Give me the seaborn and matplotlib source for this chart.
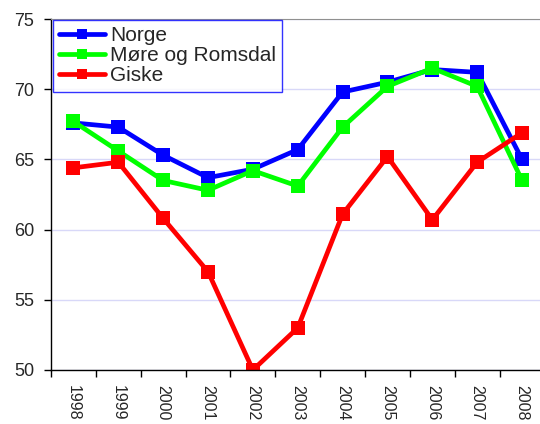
import pandas as pd
import matplotlib
matplotlib.use("Agg")
import matplotlib.pyplot as plt
import seaborn as sns
import numpy as np

years = [1998, 1999, 2000, 2001, 2002, 2003, 2004, 2005, 2006, 2007, 2008]
norge = [67.6, 67.3, 65.3, 63.7, 64.3, 65.7, 69.8, 70.5, 71.4, 71.2, 65.0]
more = [67.7, 65.6, 63.5, 62.8, 64.2, 63.1, 67.3, 70.2, 71.5, 70.2, 63.5]
giske = [64.4, 64.8, 60.8, 57.0, 50.0, 53.0, 61.1, 65.2, 60.7, 64.8, 66.9]
series = ["Norge", "Møre og Romsdal", "Giske"]
colors = ["#0000ff", "#00ff00", "#ff0000"]

df = pd.DataFrame({
    "pos": list(range(len(years))) * 3,
    "verdi": norge + more + giske,
    "serie": [s for s in series for _ in years],
})

sns.set_style("white")
plt.rcParams["font.family"] = ["Liberation Sans", "DejaVu Sans"]

fig = plt.figure(figsize=(5.4, 4.24), dpi=100)
ax = fig.add_axes([51 / 540, 1 - 370 / 424, 1 - 51 / 540, (370 - 19) / 424])

sns.lineplot(data=df, x="pos", y="verdi", hue="serie", palette=colors,
             marker="s", markersize=9.5, markeredgewidth=0, linewidth=3.4,
             ax=ax, legend=True)

ax.set_xlim(-0.5, 10.4)
ax.set_ylim(50, 75)
ax.set_yticks([50, 55, 60, 65, 70, 75])
ax.set_xticks(range(len(years)))
ax.set_xticklabels([str(y) for y in years], rotation=-90, fontsize=11.5)
ax.set_xticks(np.arange(-0.5, 10.5, 1), minor=True)
ax.tick_params(axis="x", which="major", bottom=True, length=0, pad=11)
ax.tick_params(axis="x", which="minor", bottom=True, length=5, width=1,
               direction="out", color="black")
ax.tick_params(axis="y", left=True, length=5, width=1, direction="out",
               color="black", labelsize=13, pad=7)
ax.yaxis.grid(True, color="#d8d8f8", linewidth=1)
ax.set_axisbelow(True)
ax.set_xlabel("")
ax.set_ylabel("")

ax.spines["left"].set_color("black")
ax.spines["bottom"].set_color("black")
ax.spines["top"].set_color("#909090")
ax.spines["right"].set_visible(False)
for s in ["left", "bottom"]:
    ax.spines[s].set_linewidth(1)

handles, labels = ax.get_legend_handles_labels()
for h in handles:
    h.set_markersize(7)
leg = ax.legend(handles, labels, loc="upper left", bbox_to_anchor=(0.004, 0.997),
                fontsize=15, frameon=True, fancybox=False, handlelength=2.2,
                handletextpad=0.25, labelspacing=0.05, borderpad=0.3,
                borderaxespad=0)
leg.get_frame().set_edgecolor("#0000ff")
leg.get_frame().set_linewidth(1)

fig.savefig("out.png", dpi=100)
